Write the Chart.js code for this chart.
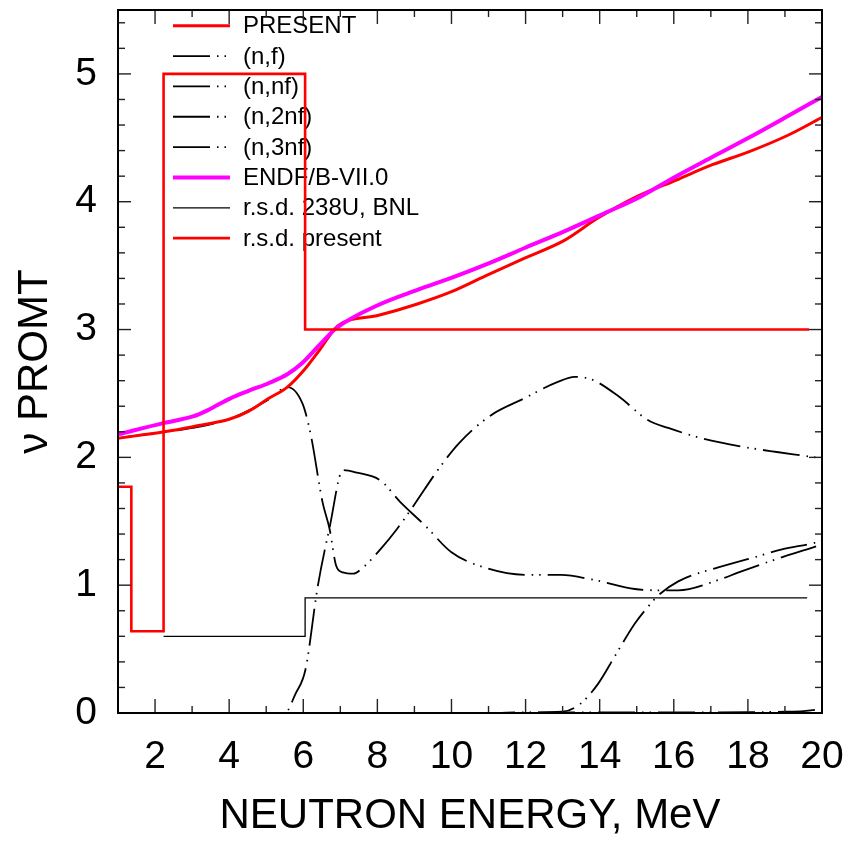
<!DOCTYPE html>
<html>
<head>
<meta charset="utf-8">
<script src="https://cdn.jsdelivr.net/npm/chart.js@4.4.1/dist/chart.umd.min.js"></script>
<style>
  html, body { margin: 0; padding: 0; background: #fff; }
  #wrap { width: 854px; height: 842px; }
</style>
</head>
<body>
<div id="wrap"><canvas id="c" width="854" height="842"></canvas></div>
<script>
// ---------------- data ----------------
const presentE  = [1, 2.25, 3.02, 4.02, 4.52, 5.06, 5.57, 6.04, 6.44, 6.94, 8.01, 9.08, 9.95, 10.92, 11.99, 13.06, 13.94, 15.0, 16.07, 17.04, 18.02, 19.08, 20];
const presentNu = [2.15, 2.20, 2.24, 2.30, 2.36, 2.46, 2.55, 2.69, 2.84, 3.03, 3.11, 3.20, 3.29, 3.42, 3.56, 3.70, 3.87, 4.04, 4.17, 4.29, 4.39, 4.52, 4.66];

const endfE  = [1, 2.25, 3.02, 3.43, 4.02, 4.52, 5.06, 5.57, 5.98, 6.44, 6.89, 8.01, 9.08, 10.05, 11.02, 11.99, 13.06, 14.13, 15.1, 16.07, 17.04, 18.02, 19.08, 20];
const endfNu = [2.18, 2.27, 2.32, 2.37, 2.46, 2.52, 2.58, 2.65, 2.74, 2.88, 3.01, 3.19, 3.31, 3.41, 3.52, 3.64, 3.77, 3.91, 4.04, 4.20, 4.35, 4.50, 4.67, 4.82];

const nfE  = [1, 2, 3, 4, 5.06, 5.57, 5.98, 6.2, 6.52, 6.71, 6.89, 7.07, 7.35, 7.58, 8.08, 8.53, 8.95, 9.63, 10.2, 11.07, 11.88, 12.87, 13.32, 13.78, 14.5, 15.31, 15.85, 16.75, 17.92, 18.83, 19.81, 20];
const nfNu = [2.15, 2.19, 2.23, 2.30, 2.45, 2.55, 2.42, 2.18, 1.65, 1.44, 1.15, 1.10, 1.09, 1.13, 1.28, 1.44, 1.61, 1.90, 2.11, 2.33, 2.45, 2.59, 2.63, 2.61, 2.48, 2.29, 2.23, 2.15, 2.08, 2.04, 2.00, 1.99];

const nnfE  = [1, 5.5, 5.79, 6.06, 6.39, 6.71, 7.07, 7.45, 8.08, 8.62, 9.31, 9.99, 10.98, 12.06, 12.96, 13.86, 14.95, 15.58, 16.12, 17.2, 17.75, 18.83, 19.91, 20];
const nnfNu = [0, 0, 0.15, 0.34, 0.99, 1.45, 1.90, 1.88, 1.82, 1.65, 1.46, 1.26, 1.13, 1.08, 1.08, 1.04, 0.97, 0.96, 0.96, 1.04, 1.10, 1.21, 1.31, 1.32];

const n2nfE  = [1, 11, 13.0, 13.47, 13.96, 14.4, 14.95, 15.36, 15.58, 16.12, 17.2, 18.2, 18.92, 19.91, 20];
const n2nfNu = [0, 0, 0.01, 0.07, 0.23, 0.44, 0.70, 0.85, 0.92, 1.03, 1.14, 1.22, 1.28, 1.34, 1.35];

const n3nfE  = [1, 11, 12, 16, 18, 19, 19.5, 20];
const n3nfNu = [0, 0, 0.005, 0.005, 0.006, 0.01, 0.015, 0.03];

// relative standard deviation histograms: bin edges and values
const rsdBnlE  = [2.23, 6.05, 19.6];
const rsdBnlV  = [0.60, 0.90, 0.90];
const rsdPresE = [1, 1.36, 2.23, 6.05, 19.65];
const rsdPresV = [1.77, 0.64, 5.0, 3.0, 3.0];

const xTickLabels = [2, 4, 6, 8, 10, 12, 14, 16, 18, 20];
const yTickLabels = [0, 1, 2, 3, 4, 5];

// ---------------- helpers ----------------
const pts = (xs, ys) => xs.map((x, i) => ({ x: x, y: ys[i] }));
const FONT = "'Liberation Sans', Arial, Helvetica, sans-serif";
Chart.defaults.font.family = FONT;
Chart.defaults.color = '#000';

const dashDotDot = [37, 7, 1.5, 6, 1.5, 7];

const datasets = [
  { label: 'PRESENT', data: pts(presentE, presentNu), borderColor: '#ff0000', borderWidth: 3, cubicInterpolationMode: 'monotone', order: 3 },
  { label: '(n,f)', data: pts(nfE, nfNu), borderColor: '#000', borderWidth: 1.8, borderDash: dashDotDot, cubicInterpolationMode: 'monotone', order: 6 },
  { label: '(n,nf)', data: pts(nnfE, nnfNu), borderColor: '#000', borderWidth: 1.8, borderDash: dashDotDot, cubicInterpolationMode: 'monotone', order: 6 },
  { label: '(n,2nf)', data: pts(n2nfE, n2nfNu), borderColor: '#000', borderWidth: 1.8, borderDash: dashDotDot, cubicInterpolationMode: 'monotone', order: 6 },
  { label: '(n,3nf)', data: pts(n3nfE, n3nfNu), borderColor: '#000', borderWidth: 1.8, borderDash: dashDotDot, cubicInterpolationMode: 'monotone', order: 6 },
  { label: 'ENDF/B-VII.0', data: pts(endfE, endfNu), borderColor: '#ff00ff', borderWidth: 4, cubicInterpolationMode: 'monotone', order: 2 },
  { label: 'r.s.d. 238U, BNL', data: pts(rsdBnlE, rsdBnlV), borderColor: '#000', borderWidth: 1.3, stepped: 'before', order: 5 },
  { label: 'r.s.d. present', data: pts(rsdPresE, rsdPresV), borderColor: '#ff0000', borderWidth: 2.6, stepped: 'before', order: 1 }
];
datasets.forEach(d => { d.pointRadius = 0; d.fill = false; d.tension = 0; d.borderCapStyle = 'butt'; });

// inward ticks on all four sides + frame
const frameTicks = {
  id: 'frameTicks',
  afterDatasetsDraw(chart) {
    const { ctx, chartArea: a, scales: { x, y } } = chart;
    ctx.save();
    ctx.strokeStyle = '#222';
    ctx.lineWidth = 1.4;
    ctx.setLineDash([]);
    const seg = (x1, y1, x2, y2) => { ctx.beginPath(); ctx.moveTo(x1, y1); ctx.lineTo(x2, y2); ctx.stroke(); };
    for (let v = Math.ceil(x.min); v <= x.max; v++) {
      const px = x.getPixelForValue(v);
      const L = (v % 2 === 0) ? 14 : 7;
      seg(px, a.bottom, px, a.bottom - L);
      seg(px, a.top, px, a.top + L);
    }
    for (let i = 0; i * 0.2 <= y.max + 1e-9; i++) {
      const v = i * 0.2;
      const py = y.getPixelForValue(v);
      const L = (i % 5 === 0) ? 13 : 7;
      seg(a.left, py, a.left + L, py);
      seg(a.right, py, a.right - L, py);
    }
    ctx.strokeStyle = '#000';
    ctx.lineWidth = 2;
    ctx.strokeRect(a.left, a.top, a.right - a.left, a.bottom - a.top);
    ctx.restore();
  }
};

// legend inside plot, drawn beneath the data lines
const insideLegend = {
  id: 'insideLegend',
  beforeDatasetsDraw(chart) {
    const { ctx } = chart;
    ctx.save();
    ctx.font = '24px ' + FONT;
    ctx.textBaseline = 'middle';
    ctx.textAlign = 'left';
    chart.data.datasets.forEach((d, i) => {
      const yy = 25.7 + i * 30.35;
      ctx.strokeStyle = d.borderColor;
      ctx.lineWidth = d.borderWidth;
      ctx.setLineDash(d.borderDash || []);
      ctx.lineCap = 'butt';
      ctx.beginPath(); ctx.moveTo(173, yy); ctx.lineTo(230, yy); ctx.stroke();
      ctx.setLineDash([]);
      ctx.fillStyle = '#000';
      ctx.fillText(d.label, 243, yy + 1);
    });
    ctx.restore();
  }
};

new Chart(document.getElementById('c'), {
  type: 'line',
  data: { datasets: datasets },
  options: {
    responsive: false,
    animation: false,
    events: [],
    layout: { padding: { top: 10, right: 32, left: 0, bottom: 0 } },
    plugins: { legend: { display: false }, tooltip: { enabled: false } },
    scales: {
      x: {
        type: 'linear', position: 'bottom', min: 1, max: 20,
        afterBuildTicks: s => { s.ticks = xTickLabels.map(v => ({ value: v })); },
        afterFit: s => { s.height = 129; s.paddingLeft = 0; s.paddingRight = 0; },
        grid: { display: false, drawTicks: false },
        border: { display: false },
        ticks: { font: { size: 39 }, color: '#000', padding: 21, maxRotation: 0, autoSkip: false },
        title: { display: true, text: 'NEUTRON ENERGY, MeV', font: { size: 42 }, color: '#000', padding: { top: 0, bottom: 0 } }
      },
      y: {
        type: 'linear', position: 'left', min: 0, max: 5.5,
        afterBuildTicks: s => { s.ticks = yTickLabels.map(v => ({ value: v })); },
        afterFit: s => { s.width = 118; s.paddingTop = 0; s.paddingBottom = 0; },
        grid: { display: false, drawTicks: false },
        border: { display: false },
        ticks: { font: { size: 39 }, color: '#000', padding: 21, autoSkip: false },
        title: { display: true, text: 'ν PROMT', font: { size: 42 }, color: '#000', padding: { top: 10, bottom: 0 } }
      }
    }
  },
  plugins: [insideLegend, frameTicks]
});
</script>
</body>
</html>
